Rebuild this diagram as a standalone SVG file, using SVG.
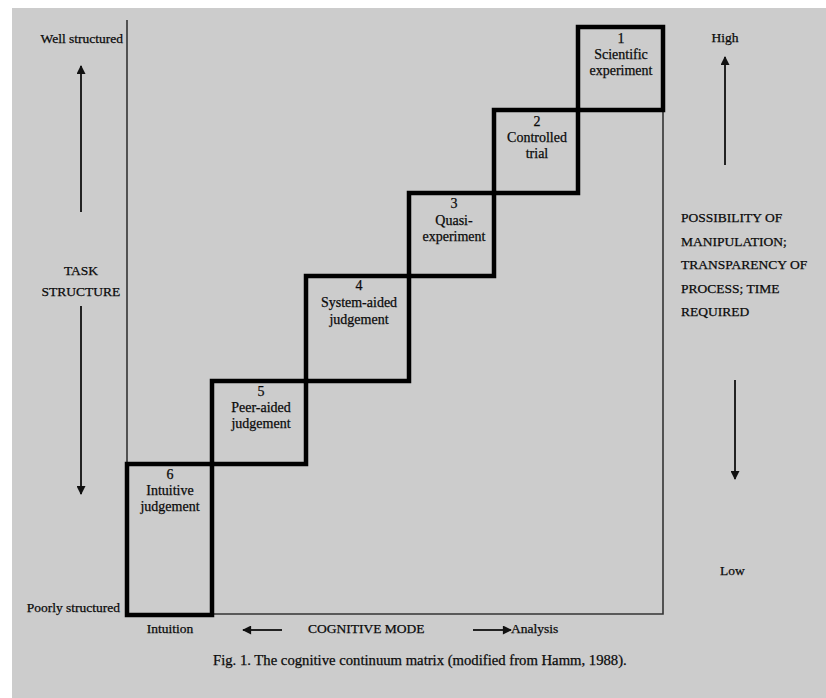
<svg xmlns="http://www.w3.org/2000/svg" width="826" height="698" viewBox="0 0 826 698">
<style>
text{font-family:"Liberation Serif","Times New Roman",serif;font-size:13.5px;fill:#0a0a0a;stroke:#0a0a0a;stroke-width:0.25;}
.c{text-anchor:middle;}
.r{text-anchor:end;}
.box{fill:none;stroke:#000;stroke-width:4.5;stroke-linejoin:miter;}
.thin{fill:none;stroke:#333;stroke-width:1.6;}
.arr{stroke:#222;stroke-width:2;fill:none;marker-end:url(#ah);}
.lb{font-size:14px;}
.cap{font-size:14.7px;}
</style>
<defs>
<marker id="ah" viewBox="0 0 10 10" refX="9" refY="5" markerWidth="5" markerHeight="4.5" orient="auto" markerUnits="strokeWidth">
<path d="M0,0 L10,5 L0,10 z" fill="#111"/>
</marker>
</defs>
<rect x="0" y="0" width="826" height="698" fill="#fff"/>
<rect x="12" y="8" width="814" height="690" fill="#cccccc"/>

<g id="frame">
<polyline class="thin" points="127,20 127,464"/>
<polyline class="thin" points="212,614 663,614 663,110"/>
</g>

<g id="box1">
<rect class="box" x="578" y="27" width="85" height="83"/>
<text class="c lb" x="621" y="43">1</text>
<text class="c lb" x="621" y="59">Scientific</text>
<text class="c lb" x="621" y="75">experiment</text>
</g>
<g id="box2">
<rect class="box" x="494" y="110" width="84" height="83"/>
<text class="c lb" x="537" y="126">2</text>
<text class="c lb" x="537" y="142">Controlled</text>
<text class="c lb" x="537" y="158">trial</text>
</g>
<g id="box3">
<rect class="box" x="409" y="193" width="85" height="83"/>
<text class="c lb" x="454" y="208">3</text>
<text class="c lb" x="454" y="225">Quasi-</text>
<text class="c lb" x="454" y="241">experiment</text>
</g>
<g id="box4">
<rect class="box" x="306" y="276" width="103" height="105"/>
<text class="c lb" x="359" y="290">4</text>
<text class="c lb" x="359" y="307">System-aided</text>
<text class="c lb" x="359" y="324">judgement</text>
</g>
<g id="box5">
<rect class="box" x="212" y="381" width="94" height="83"/>
<text class="c lb" x="261" y="396">5</text>
<text class="c lb" x="261" y="412">Peer-aided</text>
<text class="c lb" x="261" y="428">judgement</text>
</g>
<g id="box6">
<rect class="box" x="127" y="464" width="85" height="151"/>
<text class="c lb" x="170" y="479">6</text>
<text class="c lb" x="170" y="495">Intuitive</text>
<text class="c lb" x="170" y="511">judgement</text>
</g>

<g id="connectors">
<line class="arr" x1="81" y1="212" x2="81" y2="66"/>
<line class="arr" x1="81" y1="306" x2="81" y2="494"/>
<line class="arr" x1="725" y1="165" x2="725" y2="57"/>
<line class="arr" x1="735" y1="380" x2="735" y2="479"/>
<line class="arr" x1="282" y1="630" x2="243" y2="630"/>
<line class="arr" x1="473" y1="630" x2="511" y2="630"/>
</g>

<g id="labels">
<text class="r" x="123" y="43">Well structured</text>
<text class="c" x="81" y="275">TASK</text>
<text class="c" x="81" y="296">STRUCTURE</text>
<text class="r" x="120" y="612">Poorly structured</text>
<text class="c" x="170" y="633">Intuition</text>
<text x="308" y="633">COGNITIVE MODE</text>
<text x="511" y="633">Analysis</text>
<text class="c" x="725" y="42">High</text>
<text x="681" y="222">POSSIBILITY OF</text>
<text x="681" y="246">MANIPULATION;</text>
<text x="681" y="269">TRANSPARENCY OF</text>
<text x="681" y="293">PROCESS; TIME</text>
<text x="681" y="316">REQUIRED</text>
<text x="720" y="575">Low</text>
<text class="cap" x="213" y="665">Fig. 1. The cognitive continuum matrix (modified from Hamm, 1988).</text>
</g>
</svg>
